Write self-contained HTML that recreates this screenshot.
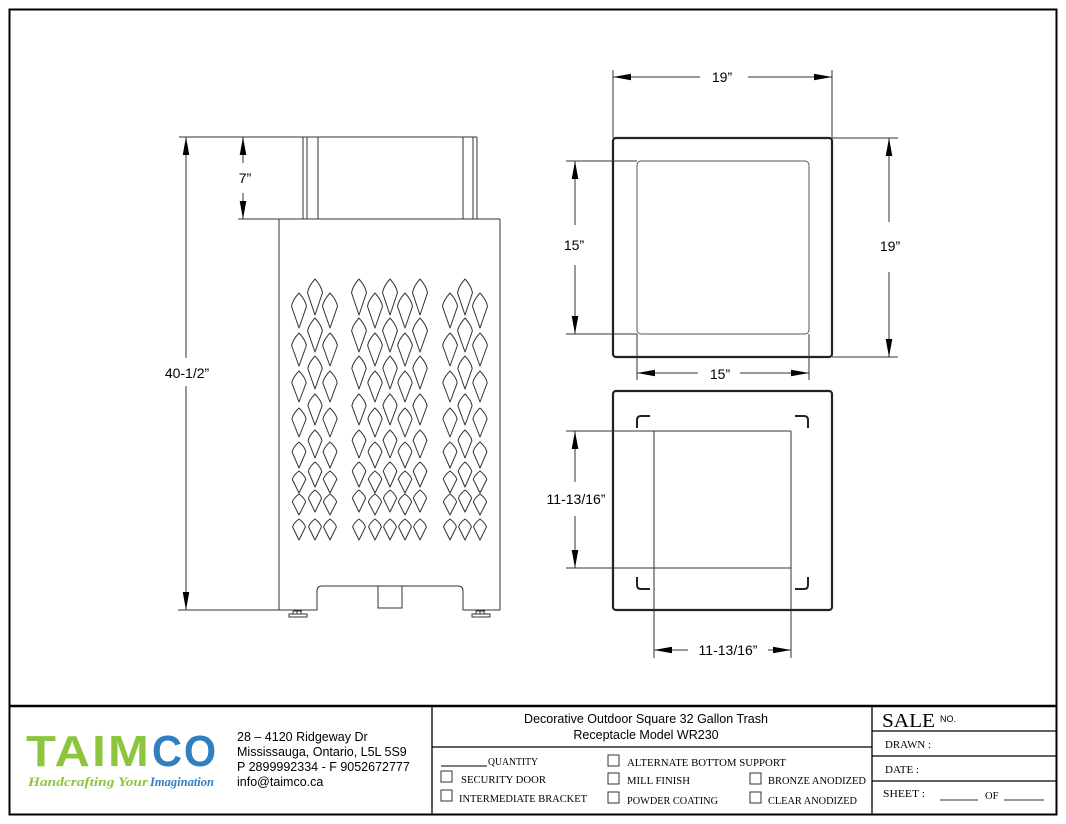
<!DOCTYPE html>
<html><head><meta charset="utf-8"><style>
html,body{margin:0;padding:0;background:#fff}
svg{display:block}
text{font-family:"Liberation Sans",Arial,sans-serif}
.m{font-family:"Liberation Serif",serif;font-size:10.5px}
</style></head><body>
<svg width="1066" height="824" viewBox="0 0 1066 824" xmlns="http://www.w3.org/2000/svg">
<defs>
<marker id="a" viewBox="0 0 10 10" refX="10" refY="5" markerWidth="10" markerHeight="10" markerUnits="userSpaceOnUse" orient="auto-start-reverse" overflow="visible"><path d="M-8,1.7 L10,5 L-8,8.3 z" fill="#000"/></marker>
</defs>
<rect x="9.5" y="9.5" width="1047" height="805" fill="none" stroke="#000" stroke-width="2"/>
<line x1="9" y1="706" x2="1057" y2="706" stroke="#000" stroke-width="2.5"/>

<g stroke="#333" stroke-width="1" fill="none">
<line x1="279" y1="219" x2="500" y2="219"/>
<line x1="279" y1="219" x2="279" y2="610"/>
<line x1="500" y1="219" x2="500" y2="610"/>
<line x1="303" y1="137" x2="477" y2="137"/>
<line x1="303" y1="137" x2="303" y2="219"/>
<line x1="307" y1="137" x2="307" y2="219"/>
<line x1="318" y1="137" x2="318" y2="219"/>
<line x1="463" y1="137" x2="463" y2="219"/>
<line x1="473" y1="137" x2="473" y2="219"/>
<line x1="477" y1="137" x2="477" y2="219"/>
<path d="M279,610 H317 V591 Q317,586 322,586 H458 Q463,586 463,591 V610 H500"/>
<rect x="378" y="586" width="24" height="22"/>
<rect x="289" y="614" width="18" height="3"/><path d="M293,614 v-3 M297,614 v-3 M301,614 v-3 M293,611 h9"/>
<rect x="472" y="614" width="18" height="3"/><path d="M476,614 v-3 M480,614 v-3 M484,614 v-3 M476,611 h9"/>
<line x1="179" y1="137" x2="303" y2="137"/>
<line x1="178" y1="610" x2="279" y2="610"/>
<line x1="238" y1="219" x2="279" y2="219"/>
<line x1="186" y1="137" x2="186" y2="358" marker-start="url(#a)"/>
<line x1="186" y1="386" x2="186" y2="610" marker-end="url(#a)"/>
<line x1="243" y1="137" x2="243" y2="163" marker-start="url(#a)"/>
<line x1="243" y1="193" x2="243" y2="219" marker-end="url(#a)"/>
</g>
<g id="pat" fill="none" stroke="#333" stroke-width="1" stroke-linejoin="round"></g>
<text x="187" y="378" font-size="14" text-anchor="middle">40-1/2”</text>
<text x="245" y="183" font-size="14" text-anchor="middle">7”</text>

<g stroke="#222" fill="none">
<rect x="613" y="138" width="219" height="219" rx="3" stroke-width="2.2"/>
<rect x="637" y="161" width="172" height="173" rx="4" stroke-width="1" stroke="#555"/>
<g stroke-width="1" stroke="#333">
<line x1="613" y1="70" x2="613" y2="138"/><line x1="832" y1="70" x2="832" y2="138"/>
<line x1="613" y1="77" x2="700" y2="77" marker-start="url(#a)"/><line x1="748" y1="77" x2="832" y2="77" marker-end="url(#a)"/>
<line x1="832" y1="138" x2="898" y2="138"/><line x1="832" y1="357" x2="898" y2="357"/>
<line x1="889" y1="138" x2="889" y2="222" marker-start="url(#a)"/><line x1="889" y1="272" x2="889" y2="357" marker-end="url(#a)"/>
<line x1="566" y1="161" x2="637" y2="161"/><line x1="566" y1="334" x2="637" y2="334"/>
<line x1="575" y1="161" x2="575" y2="225" marker-start="url(#a)"/><line x1="575" y1="265" x2="575" y2="334" marker-end="url(#a)"/>
<line x1="637" y1="334" x2="637" y2="380"/><line x1="809" y1="334" x2="809" y2="380"/>
<line x1="637" y1="373" x2="698" y2="373" marker-start="url(#a)"/><line x1="740" y1="373" x2="809" y2="373" marker-end="url(#a)"/>
</g>
<rect x="613" y="391" width="219" height="219" rx="3" stroke-width="2.2"/>
<g stroke-width="2">
<path d="M637,428 v-8 q0,-4 4,-4 h9"/><path d="M795,416 h9 q4,0 4,4 v8"/>
<path d="M637,577 v8 q0,4 4,4 h9"/><path d="M795,589 h9 q4,0 4,-4 v-8"/>
</g>
<g stroke-width="1" stroke="#333">
<line x1="654" y1="431" x2="654" y2="658"/><line x1="791" y1="431" x2="791" y2="658"/>
<line x1="566" y1="431" x2="791" y2="431"/><line x1="566" y1="568" x2="791" y2="568"/>
<line x1="575" y1="431" x2="575" y2="482" marker-start="url(#a)"/><line x1="575" y1="516" x2="575" y2="568" marker-end="url(#a)"/>
<line x1="654" y1="650" x2="688" y2="650" marker-start="url(#a)"/><line x1="768" y1="650" x2="791" y2="650" marker-end="url(#a)"/>
</g>
</g>
<text x="722" y="82" font-size="14" text-anchor="middle">19”</text>
<text x="890" y="251" font-size="14" text-anchor="middle">19”</text>
<text x="574" y="250" font-size="14" text-anchor="middle">15”</text>
<text x="720" y="379" font-size="14" text-anchor="middle">15”</text>
<text x="576" y="504" font-size="14" text-anchor="middle">11-13/16”</text>
<text x="728" y="655" font-size="14" text-anchor="middle">11-13/16”</text>

<g stroke="#000" stroke-width="1.3">
<line x1="432" y1="706" x2="432" y2="815"/>
<line x1="872" y1="706" x2="872" y2="815"/>
<line x1="432" y1="747" x2="872" y2="747"/>
<line x1="872" y1="731" x2="1057" y2="731"/>
<line x1="872" y1="756" x2="1057" y2="756"/>
<line x1="872" y1="781" x2="1057" y2="781"/>
</g>
<text x="26" y="766" font-size="44" font-weight="bold" fill="#8cc63f" letter-spacing="2" textLength="125" lengthAdjust="spacingAndGlyphs">TAIM</text>
<text x="152" y="766" font-size="44" font-weight="bold" fill="#2f7fc1" letter-spacing="2" textLength="66" lengthAdjust="spacingAndGlyphs">CO</text>
<text x="28" y="786" style="font-family:'Liberation Serif',serif;font-size:13px;font-style:italic;font-weight:bold" fill="#8cc63f" textLength="120" lengthAdjust="spacingAndGlyphs">Handcrafting Your</text>
<text x="150" y="786" style="font-family:'Liberation Serif',serif;font-size:13px;font-style:italic;font-weight:bold" fill="#2f7fc1" textLength="64" lengthAdjust="spacingAndGlyphs">Imagination</text>
<g font-size="12.5" fill="#000">
<text x="237" y="741">28 – 4120 Ridgeway Dr</text>
<text x="237" y="756">Mississauga, Ontario, L5L 5S9</text>
<text x="237" y="771">P 2899992334 - F 9052672777</text>
<text x="237" y="786">info@taimco.ca</text>
<text x="646" y="723" text-anchor="middle">Decorative Outdoor Square 32 Gallon Trash</text>
<text x="646" y="739" text-anchor="middle">Receptacle Model WR230</text>
</g>
<g fill="#000">
<line x1="441" y1="766" x2="487" y2="766" stroke="#000"/>
<text x="488" y="765" class="m" textLength="50" lengthAdjust="spacingAndGlyphs">QUANTITY</text>
<text x="461" y="783" class="m" textLength="85" lengthAdjust="spacingAndGlyphs">SECURITY DOOR</text>
<text x="459" y="802" class="m" textLength="128" lengthAdjust="spacingAndGlyphs">INTERMEDIATE BRACKET</text>
<text x="627" y="766" class="m" textLength="159" lengthAdjust="spacingAndGlyphs">ALTERNATE BOTTOM SUPPORT</text>
<text x="627" y="784" class="m" textLength="63" lengthAdjust="spacingAndGlyphs">MILL FINISH</text>
<text x="627" y="804" class="m" textLength="91" lengthAdjust="spacingAndGlyphs">POWDER COATING</text>
<text x="768" y="784" class="m" textLength="98" lengthAdjust="spacingAndGlyphs">BRONZE ANODIZED</text>
<text x="768" y="804" class="m" textLength="89" lengthAdjust="spacingAndGlyphs">CLEAR ANODIZED</text>
<text x="885" y="748" class="m" textLength="46" lengthAdjust="spacingAndGlyphs">DRAWN :</text>
<text x="885" y="773" class="m" textLength="34" lengthAdjust="spacingAndGlyphs">DATE :</text>
<text x="883" y="797" class="m" textLength="42" lengthAdjust="spacingAndGlyphs">SHEET :</text>
<text x="985" y="799" class="m">OF</text>
</g>
<text x="882" y="727" style="font-family:'Liberation Serif',serif;font-size:20px" textLength="53" lengthAdjust="spacingAndGlyphs">SALE</text>
<text x="940" y="722" font-size="9">NO.</text>
<g stroke="#333" fill="none" stroke-width="1">
<line x1="940" y1="800" x2="978" y2="800"/><line x1="1004" y1="800" x2="1044" y2="800"/>
<rect x="441" y="771" width="11" height="11"/><rect x="441" y="790" width="11" height="11"/>
<rect x="608" y="755" width="11" height="11"/><rect x="608" y="773" width="11" height="11"/><rect x="608" y="792" width="11" height="11"/>
<rect x="750" y="773" width="11" height="11"/><rect x="750" y="792" width="11" height="11"/>
</g>
</svg>
<script>
(function(){
var g=document.getElementById('pat'),s='';
var groups=[[299,315,330],[359,375,390,405,420],[450,465,480]];
var upT=[279,318,356,394,430,462,490,519], upH=[36,34,33,31,28,25,22,21];
var dnT=[293,333,371,408,442,471,494,519], dnH=[35,33,31,29,26,22,21,21];
groups.forEach(function(cols){
 cols.forEach(function(cx,j){
  var up=(cols.length==3)?(j==1):(j%2==0);
  var T=up?upT:dnT,H=up?upH:dnH;
  for(var i=0;i<8;i++){
   var top=T[i],h=H[i],w=15-i*0.3,b=top+0.38*h,r=w/2;
   s+='<path d="M'+cx+','+(top+h).toFixed(1)+' L'+(cx-r).toFixed(1)+','+b.toFixed(1)+' Q'+(cx-r*0.85).toFixed(1)+','+(top+h*0.2).toFixed(1)+' '+cx+','+top+' Q'+(cx+r*0.85).toFixed(1)+','+(top+h*0.2).toFixed(1)+' '+(cx+r).toFixed(1)+','+b.toFixed(1)+' Z"/>';
  }
 });
});
g.innerHTML=s;
})();
</script>
</body></html>
